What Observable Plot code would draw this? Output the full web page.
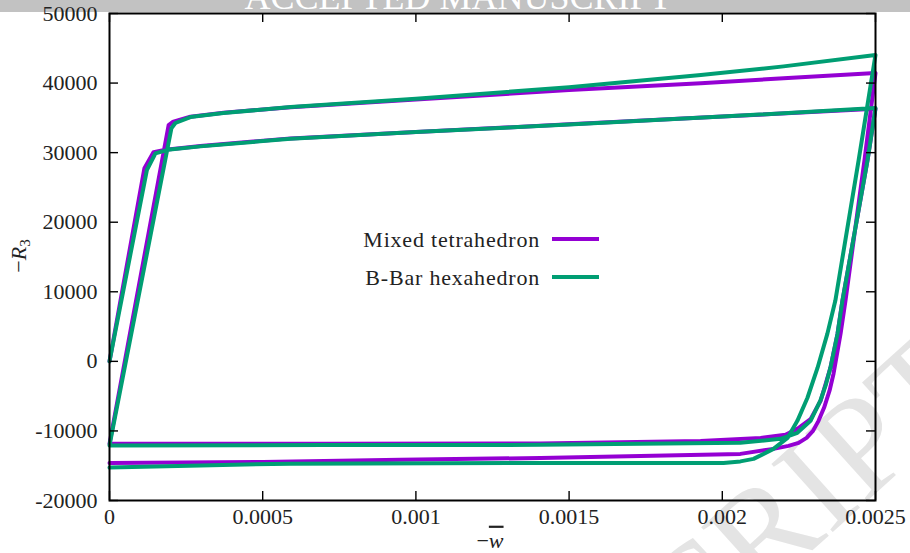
<!DOCTYPE html>
<html><head><meta charset="utf-8">
<script src="https://cdn.jsdelivr.net/npm/d3@7"></script>
<script src="https://cdn.jsdelivr.net/npm/@observablehq/plot@0.6"></script>
<style>
html,body{margin:0;padding:0;background:#fff;}
#wrap{position:relative;width:910px;height:553px;overflow:hidden;}
#bg,#chart{position:absolute;left:0;top:0;}
</style></head>
<body><div id="wrap">
<svg id="bg" width="910" height="553">
  <rect x="0" y="0" width="910" height="12" fill="#c2c2c2"></rect>
  <text x="458" y="9" text-anchor="middle" font-family="Liberation Serif" font-size="36" fill="#ffffff">ACCEPTED MANUSCRIPT</text>
  <text id="wm" x="0" y="0" text-anchor="end" font-family="Liberation Serif" font-size="140" fill="#e4e4e4" transform="translate(985,395) rotate(-42)">ACCEPTED MANUSCRIPT</text>
</svg>
<div id="chart"></div>
</div>
<script>
const xTicks = [0, 0.0005, 0.001, 0.0015, 0.002, 0.0025];
const xTickLabels = ["0", "0.0005", "0.001", "0.0015", "0.002", "0.0025"];
const yTicks = [-20000, -10000, 0, 10000, 20000, 30000, 40000, 50000];
const yTickLabels = ["-20000", "-10000", "0", "10000", "20000", "30000", "40000", "50000"];
const seriesNames = ["Mixed tetrahedron", "B-Bar hexahedron"];
const seriesColors = ["#9400d3", "#009e73"];

// Mixed tetrahedron: -w (x) and -R3 (y)
const wMixed = [
  0, 0.000114, 0.000144, 0.000183, 0.000297, 0.000591, 0.001, 0.0015, 0.002, 0.0025,
  0.002474, 0.002392, 0.002376, 0.002353, 0.002321, 0.002288, 0.002245, 0.002206, 0.002125, 0.001929, 0.001407, 0.0007, 0,
  0.000193, 0.000206, 0.000264, 0.000372, 0.000482, 0.000591, 0.001, 0.0015, 0.00193, 0.0022, 0.0025,
  0.002464, 0.002402, 0.002386, 0.002363, 0.00235, 0.002332, 0.002314, 0.002296, 0.002275, 0.002249, 0.002216, 0.002167, 0.002059, 0.001733, 0.001407, 0.00095, 0.0005, 0
];
const rMixed = [
  0, 27770, 30080, 30430, 30940, 32050, 32960, 34070, 35190, 36300,
  28920, 8700, 3960, -900, -5660, -8300, -9700, -10560, -11000, -11430, -11820, -11840, -11860,
  33960, 34400, 35160, 35740, 36130, 36520, 37650, 39000, 39970, 40700, 41450,
  28920, 8700, 3990, -1770, -4220, -6670, -8550, -9990, -11000, -11720, -12150, -12580, -13300, -13590, -13880, -14160, -14450, -14600
];
// B-Bar hexahedron
const wBBar = [
  0, 0.000122, 0.00015, 0.00019, 0.000297, 0.000591, 0.001, 0.0015, 0.002, 0.0025,
  0.002474, 0.002392, 0.002376, 0.002353, 0.002337, 0.00232, 0.002288, 0.002245, 0.00219, 0.002059, 0.001407, 0.0007, 0,
  0.000202, 0.000215, 0.000264, 0.000372, 0.000483, 0.000591, 0.001, 0.0015, 0.00193, 0.0022, 0.0025,
  0.002445, 0.002369, 0.002343, 0.002311, 0.002278, 0.002245, 0.002213, 0.002167, 0.002102, 0.002059, 0.002004, 0.001407, 0.000591, 0.000297, 0
];
const rBBar = [
  0, 27500, 29900, 30400, 30900, 32000, 32950, 34050, 35180, 36400,
  28920, 8700, 3960, -900, -3500, -5660, -8540, -10270, -11140, -11710, -12000, -12040, -12080,
  33500, 34260, 35120, 35700, 36130, 36560, 37750, 39400, 41150, 42400, 44050,
  28920, 8740, 3990, -910, -5230, -8550, -11000, -12580, -14020, -14380, -14600, -14600, -14700, -14960, -15270
];

const mixedRows = wMixed.map((w, i) => ({w, r: rMixed[i]}));
const bbarRows = wBBar.map((w, i) => ({w, r: rBBar[i]}));

const W = 910, H = 553, mL = 109, mR = 35, mT = 13, mB = 53;
const fw = W - mL - mR, fh = H - mT - mB, tk = 9;

const svg = Plot.plot({
  width: W, height: H,
  marginLeft: mL, marginRight: mR, marginTop: mT, marginBottom: mB,
  style: {background: "transparent", fontFamily: "Liberation Serif", fontSize: "22px", color: "#222"},
  x: {domain: [0, 0.0025]},
  y: {domain: [-20000, 50000]},
  marks: [
    Plot.line(mixedRows, {x: "w", y: "r", stroke: seriesColors[0], strokeWidth: 4, strokeLinejoin: "round"}),
    Plot.line(bbarRows, {x: "w", y: "r", stroke: seriesColors[1], strokeWidth: 4, strokeLinejoin: "round"}),
    Plot.tickX(xTicks, {x: d => d, insetTop: fh - tk, stroke: "#000", strokeWidth: 1.4}),
    Plot.tickX(xTicks, {x: d => d, insetBottom: fh - tk, stroke: "#000", strokeWidth: 1.4}),
    Plot.tickY(yTicks, {y: d => d, insetRight: fw - tk, stroke: "#000", strokeWidth: 1.4}),
    Plot.tickY(yTicks, {y: d => d, insetLeft: fw - tk, stroke: "#000", strokeWidth: 1.4}),
    Plot.frame({stroke: "#000", strokeWidth: 2}),
    Plot.axisX({ticks: xTicks, tickSize: 0, tickPadding: 8, label: null, fill: "#222",
      tickFormat: d => xTickLabels[xTicks.indexOf(d)]}),
    Plot.axisY({ticks: yTicks, tickSize: 0, tickPadding: 12, label: null, fill: "#222",
      tickFormat: d => yTickLabels[yTicks.indexOf(d)]})
  ]
});

const s = d3.select(svg);
// legend
const legY = [239, 277];
seriesNames.forEach((name, i) => {
  s.append("text").attr("x", 540).attr("y", legY[i]).attr("dy", "0.35em")
    .attr("text-anchor", "end").attr("fill", "#222").style("letter-spacing", "0.8px").text(name);
  s.append("line").attr("x1", 552).attr("x2", 599).attr("y1", legY[i]).attr("y2", legY[i])
    .attr("stroke", seriesColors[i]).attr("stroke-width", 4);
});
// axis labels
const xl = s.append("text").attr("x", 490).attr("y", 540).attr("dy", "0.35em")
  .attr("text-anchor", "middle").attr("fill", "#222");
xl.append("tspan").text("\u2212");
xl.append("tspan").attr("font-style", "italic").style("text-decoration", "overline").text("w");
const yl = s.append("text").attr("transform", "translate(18,256) rotate(-90)").attr("dy", "0.35em")
  .attr("text-anchor", "middle").attr("fill", "#222");
yl.append("tspan").text("\u2212");
yl.append("tspan").attr("font-style", "italic").text("R");
yl.append("tspan").attr("font-size", "15px").attr("dy", "4").text("3");

document.getElementById("chart").appendChild(svg);
</script>
</body></html>
